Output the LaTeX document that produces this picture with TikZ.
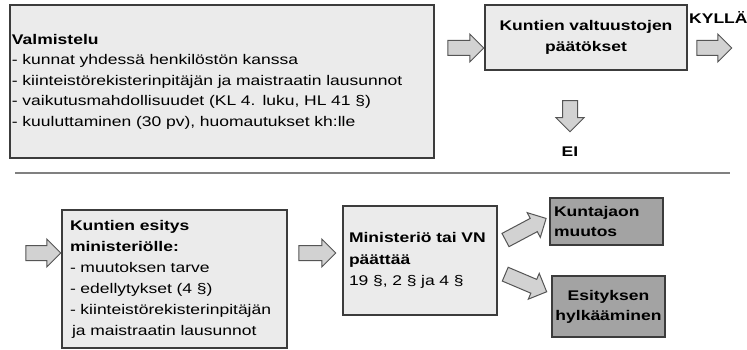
\documentclass[tikz,border=0pt]{standalone}
\usepackage{fontspec}
\setmainfont[FakeStretch=1.25]{Liberation Sans}
\usetikzlibrary{shapes.arrows}
\definecolor{boxlight}{HTML}{EBEBEB}
\definecolor{boxdark}{HTML}{A3A3A3}
\definecolor{edge}{HTML}{3C3C3C}
\definecolor{arrowfill}{HTML}{D2D2D2}
\definecolor{arrowedge}{HTML}{555555}
\tikzset{
  box/.style={draw=edge, line width=1.3pt, fill=boxlight, inner ysep=0pt, font=\fontsize{14}{20.5}\selectfont},
  darkbox/.style={box, fill=boxdark},
  barrow/.style={shape=single arrow, draw=arrowedge, line width=1pt, fill=arrowfill,
    inner xsep=0pt, inner ysep=7pt, minimum width=27pt, single arrow head extend=6.5pt},
  lbl/.style={font=\fontsize{14}{16}\selectfont\bfseries, inner sep=0pt},
}
\begin{document}
\begin{tikzpicture}[x=1pt,y=-1pt]
\useasboundingbox (0,0) rectangle (747,350);
\fill[white] (0,0) rectangle (747,350);

\node[box, minimum width=424pt, minimum height=153pt, text width=420pt, inner xsep=2pt, align=left]
  (prep) at (222,81.5) {\textbf{Valmistelu}\\- kunnat yhdessä henkilöstön kanssa\\- kiinteistörekisterinpitäjän ja maistraatin lausunnot\\- vaikutusmahdollisuudet (KL 4. luku, HL 41 §)\\- kuuluttaminen (30 pv), huomautukset kh:lle};

\node[box, minimum width=202pt, minimum height=65pt, text width=196pt, inner xsep=3pt, align=center, font=\fontsize{14}{21}\selectfont\bfseries]
  (dec) at (586,37.5) {Kuntien valtuustojen\\päätökset};

\node[lbl, anchor=west] (yes) at (689,18) {KYLLÄ};
\node[lbl] (no) at (570,152) {EI};

\node[barrow, minimum height=36pt] (a1) at (462,48) {};
\node[barrow, minimum height=35pt] (a2) at (710.5,48) {};
\node[barrow, minimum height=31pt, rotate=-90] (a3) at (570,112.5) {};

\draw[draw=gray, line width=1.8pt] (15,173) coordinate (sepL) -- (730,173) coordinate (sepR);

\node[box, minimum width=225pt, minimum height=138pt, text width=209pt, inner xsep=8pt, align=left, font=\fontsize{14}{21}\selectfont]
  (prop) at (174.5,279) {\textbf{Kuntien esitys}\\\textbf{ministeriölle:}\\- muutoksen tarve\\- edellytykset (4 §)\\- kiinteistörekisterinpitäjän\\\hspace*{2pt}ja maistraatin lausunnot};

\node[box, minimum width=154pt, minimum height=109pt, text width=142pt, inner xsep=6pt, align=left, font=\fontsize{14}{21.5}\selectfont]
  (min) at (420,260.5) {\textbf{Ministeriö tai VN}\\\textbf{päättää}\\19 §, 2 § ja 4 §};

\node[darkbox, minimum width=113pt, minimum height=47pt, text width=105pt, inner xsep=4pt, align=left, font=\fontsize{14}{20}\selectfont\bfseries]
  (chg) at (606.5,221.5) {Kuntajaon\\muutos};

\node[darkbox, minimum width=113pt, minimum height=61pt, text width=111pt, inner xsep=1pt, align=center, font=\fontsize{14}{20}\selectfont\bfseries]
  (rej) at (608.5,306.5) {Esityksen\\hylkääminen};

\node[barrow, minimum height=35pt] (a4) at (39.5,253) {};
\node[barrow, minimum height=37pt] (a5) at (313.5,253) {};
\node[barrow, minimum height=46pt, rotate=28] (a6) at (522.5,231) {};
\node[barrow, minimum height=45pt, rotate=-23] (a7) at (522.5,281.5) {};
\end{tikzpicture}
\end{document}
